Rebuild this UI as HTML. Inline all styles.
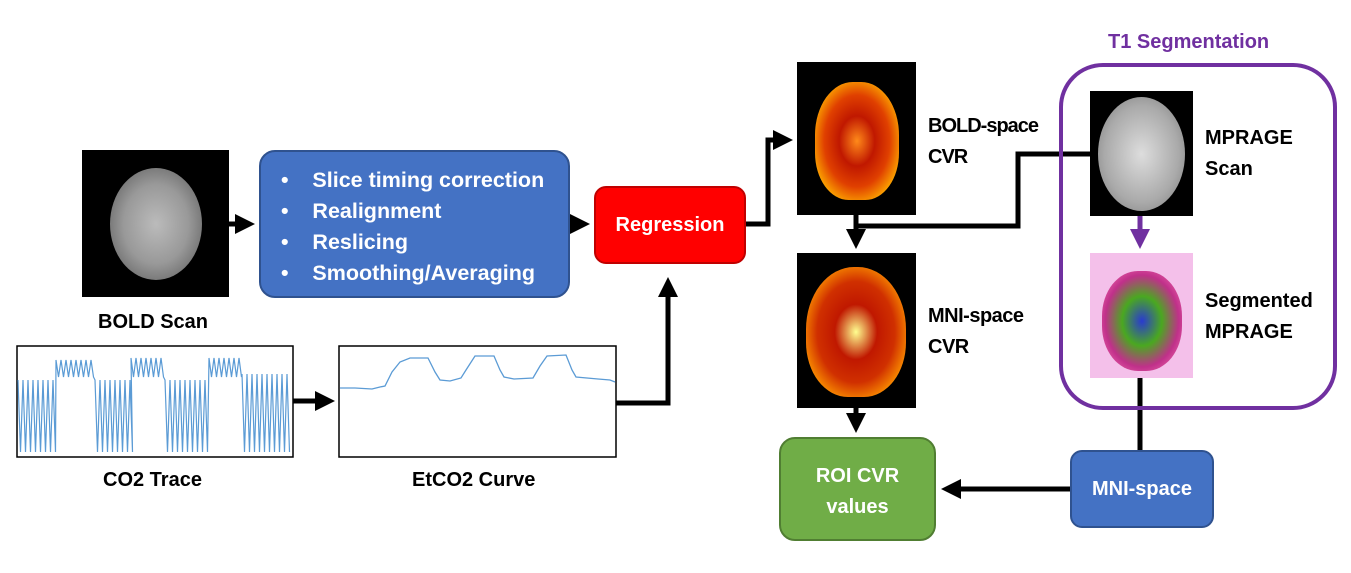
<!DOCTYPE html>
<html><head><meta charset="utf-8"><style>
body{margin:0;width:1351px;height:573px;background:#fff;position:relative;overflow:hidden;font-family:"Liberation Sans",sans-serif;font-weight:bold;}
.a{position:absolute}
.t{position:absolute;font-size:20px;color:#000;line-height:31px}
.img{position:absolute;background:#000;overflow:hidden}
.box{position:absolute;border-radius:16px;color:#fff;font-size:20px;box-sizing:border-box}
</style></head><body>
<div class="img" style="left:82px;top:150px;width:147px;height:147px"><div class="a" style="left:28px;top:18px;width:92px;height:112px;border-radius:50%;background:radial-gradient(ellipse,#bbb 0%,#999 50%,#666 85%,#222 100%)"></div></div>
<div class="t" style="left:98px;top:307px">BOLD Scan</div>
<div class="box" style="left:259px;top:150px;width:311px;height:148px;background:#4472c4;border:2px solid #2f528f;padding:13px 0 0 20px;line-height:31px;font-size:21.5px">
<div>•&nbsp;&nbsp;&nbsp;&nbsp;Slice timing correction</div><div>•&nbsp;&nbsp;&nbsp;&nbsp;Realignment</div><div>•&nbsp;&nbsp;&nbsp;&nbsp;Reslicing</div><div>•&nbsp;&nbsp;&nbsp;&nbsp;Smoothing/Averaging</div></div>
<div class="box" style="left:594px;top:186px;width:152px;height:78px;background:#ff0000;border:2px solid #c00000;text-align:center;line-height:74px;border-radius:12px">Regression</div>
<svg class="a" style="left:0;top:0" width="1351" height="573">
<defs><marker id="ah" markerWidth="4" markerHeight="4" refX="3" refY="2" orient="auto"><path d="M0,0 L4,2 L0,4z" fill="#000"/></marker>
<marker id="ap" markerWidth="4" markerHeight="4" refX="3" refY="2" orient="auto"><path d="M0,0 L4,2 L0,4z" fill="#7030a0"/></marker></defs>
<rect x="17" y="346" width="276" height="111" fill="#fff" stroke="#000" stroke-width="1.5"/>
<path id="co2" d="" fill="none" stroke="#5b9bd5" stroke-width="1.2"/>
<rect x="339" y="346" width="277" height="111" fill="#fff" stroke="#000" stroke-width="1.5"/>
<path d="M340,388 L355,388 L372,389 L380,387 L385,386 L392,372 L400,362 L410,358 L428,358 L435,372 L440,380 L450,381 L461,378 L466,370 L475,356 L494,356 L500,370 L504,377 L514,379 L533,378 L540,366 L547,356 L566,355 L572,370 L576,377 L598,379 L610,380 L615,382" fill="none" stroke="#5b9bd5" stroke-width="1.3"/>
<g stroke="#000" stroke-width="5" fill="none">
<line x1="229" y1="224" x2="250" y2="224" marker-end="url(#ah)"/>
<line x1="570" y1="224" x2="585" y2="224" marker-end="url(#ah)"/>
<polyline points="746,224 768,224 768,140 788,140" marker-end="url(#ah)"/>
<line x1="293" y1="401" x2="330" y2="401" marker-end="url(#ah)"/>
<polyline points="616,403 668,403 668,282" marker-end="url(#ah)"/>
<line x1="856" y1="215" x2="856" y2="244" marker-end="url(#ah)"/>
<polyline points="1090,154 1018,154 1018,226 856,226"/>
<line x1="856" y1="408" x2="856" y2="428" marker-end="url(#ah)"/>
<line x1="1140" y1="378" x2="1140" y2="450"/>
<line x1="1070" y1="489" x2="946" y2="489" marker-end="url(#ah)"/>
</g>
<line x1="1140" y1="216" x2="1140" y2="244" stroke="#7030a0" stroke-width="5" marker-end="url(#ap)"/>
<rect x="1061" y="65" width="274" height="343" rx="42" fill="none" stroke="#7030a0" stroke-width="4"/>
</svg>
<script>
(function(){var d="",x=18,first=true;
function seg(a,b,top,bot){for(x=a;x<b;x+=5){d+=(first?"M":"L")+x+","+top+" L"+(x+2.5)+","+bot+" ";first=false;}}
seg(18,56,380,452);seg(56,95,360,377);seg(95,131,380,452);seg(131,165,358,377);seg(165,209,380,452);seg(209,242,358,377);seg(242,291,374,452);
document.getElementById("co2").setAttribute("d",d);})();
</script>
<div class="t" style="left:103px;top:465px">CO2 Trace</div>
<div class="t" style="left:412px;top:465px">EtCO2 Curve</div>
<div class="img" style="left:797px;top:62px;width:119px;height:153px"><div class="a" style="left:18px;top:20px;width:84px;height:118px;border-radius:45% 45% 40% 40%;background:radial-gradient(ellipse at 50% 50%,#ff8a1a 0%,#c01800 30%,#e04000 55%,#ffb000 80%,#fff 100%)"></div></div>
<div class="img" style="left:797px;top:253px;width:119px;height:155px"><div class="a" style="left:9px;top:14px;width:100px;height:130px;border-radius:48% 48% 42% 42%;background:radial-gradient(ellipse at 50% 50%,#ffff90 0%,#c01800 30%,#d03000 55%,#ff9a00 80%,#fff 100%)"></div></div>
<div class="t" style="left:928px;top:111px;letter-spacing:-1px">BOLD-space<br>CVR</div>
<div class="t" style="left:928px;top:301px;letter-spacing:-0.5px">MNI-space<br>CVR</div>
<div class="t" style="left:1108px;top:27px;color:#7030a0">T1 Segmentation</div>
<div class="img" style="left:1090px;top:91px;width:103px;height:125px"><div class="a" style="left:8px;top:6px;width:87px;height:114px;border-radius:50%;background:radial-gradient(ellipse,#ddd 0%,#aaa 60%,#888 85%,#444 100%)"></div></div>
<div class="img" style="left:1090px;top:253px;width:103px;height:125px;background:#f4c0ea"><div class="a" style="left:12px;top:18px;width:80px;height:100px;border-radius:45%;background:radial-gradient(ellipse,#2a3ad0 0%,#4aa820 35%,#c0308a 65%,#e860a8 85%,#f4c0ea 100%)"></div></div>
<div class="t" style="left:1205px;top:123px">MPRAGE<br>Scan</div>
<div class="t" style="left:1205px;top:286px">Segmented<br>MPRAGE</div>
<div class="box" style="left:779px;top:437px;width:157px;height:104px;background:#70ad47;border:2px solid #507e32;text-align:center;padding-top:22px;line-height:31px">ROI CVR<br>values</div>
<div class="box" style="left:1070px;top:450px;width:144px;height:78px;background:#4472c4;border:2px solid #2f528f;text-align:center;line-height:74px;border-radius:12px">MNI-space</div>
</body></html>
